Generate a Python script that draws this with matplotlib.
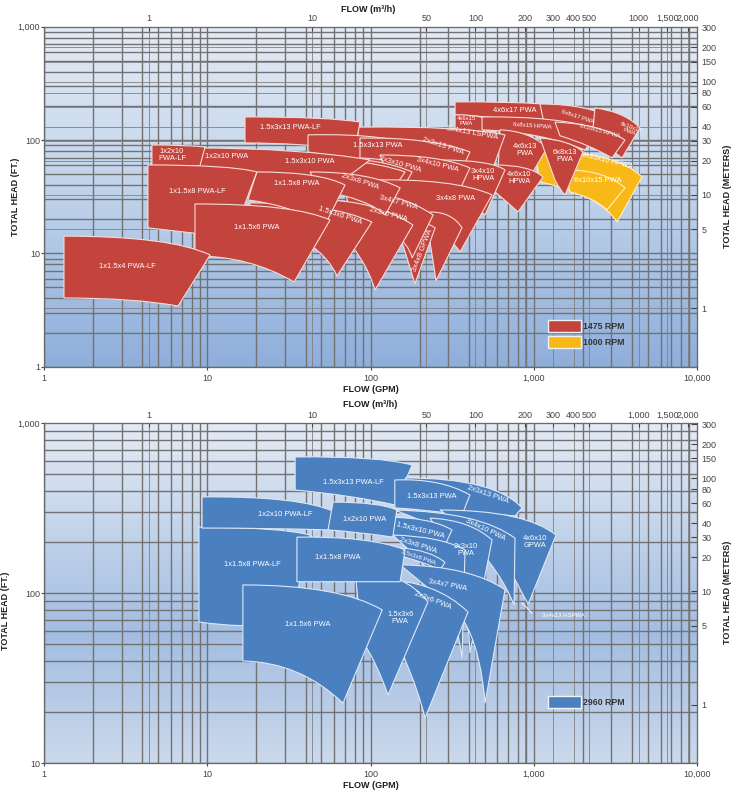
import numpy as np
import matplotlib.pyplot as plt
from matplotlib.path import Path
from matplotlib.patches import PathPatch, Rectangle
from matplotlib.colors import LinearSegmentedColormap
from matplotlib.ticker import NullLocator

plt.rcParams['font.family'] = ['Liberation Sans', 'DejaVu Sans']

GPM_PER_M3H = 4.403
FT_PER_M = 3.281

# axis ticks
gpm_ticks = [1, 10, 100, 1000, 10000]
gpm_labels = ['1', '10', '100', '1,000', '10,000']
m3h_ticks = [1, 10, 50, 100, 200, 300, 400, 500, 1000, 1500, 2000]
m3h_labels_1 = ['1', '10', '50', '100', '200', '300', '400', '500', '1000', '1,500', '2,000']
m3h_labels_2 = ['1', '10', '50', '100', '200', '300', '400', '500', '1,000', '1,500', '2,000']
meter_ticks = [1, 5, 10, 20, 30, 40, 60, 80, 100, 150, 200, 300]
ft_ticks_1 = [1, 10, 100, 1000]
ft_labels_1 = ['1', '10', '100', '1,000']
ft_ticks_2 = [10, 100, 1000]
ft_labels_2 = ['10', '100', '1,000']

# coverage areas, flow GPM / head ft
# each: top-left, top bend, top-right, bottom-right, bottom bend, bottom-left
names_1 = ['4x6x17 PWA', '6x8x17 PWA', '8x10x17\nPWA', '4x6x15\nPWA', '6x8x15 HPWA',
           '8x10x15 HPWA', '8x10x10 HPWA', '8x10x15 PWA', '4x6x13\nPWA', '6x8x13\nPWA',
           '3x4x13 LSPWA', '1.5x3x13 PWA-LF', '1.5x3x13 PWA', '2x3x13 PWA', '4x6x10\nHPWA',
           '3x4x10\nHPWA', '3x4x10 PWA', '2x3x10 PWA', '1.5x3x10 PWA', '1x2x10 PWA',
           '1x2x10\nPWA-LF', '3x4x8 PWA', '', '3x4x8 GPWA', '3x4x7 PWA', '2x3x6 PWA',
           '2x3x8 PWA', '1.5x3x6 PWA', '1x1.5x8 PWA', '1x1.5x8 PWA-LF', '1x1.5x6 PWA',
           '1x1.5x4 PWA-LF']
rpm_1 = [1475] * 6 + [1000, 1000] + [1475] * 24
areas_1 = [
    [(330, 217), (1452, 221), (2553, 177), (2217, 111), (825, 160), (330, 167)],
    [(1094, 208), (2217, 208), (3155, 150), (2553, 100), (1672, 128), (1175, 128)],
    [(2380, 192), (3634, 177), (4490, 128), (3483, 69.5), (2741, 90.5), (2280, 104)],
    [(330, 167), (437, 167), (504, 156), (483, 104), (407, 116), (330, 123)],
    [(483, 160), (1452, 163), (2553, 123), (2066, 81.8), (1094, 118), (483, 123)],
    [(1352, 144), (2553, 139), (3634, 100), (3025, 69.5), (2217, 90.5), (1452, 109)],
    [(1020, 78.5), (3155, 81.8), (4618, 47.2), (3246, 18.9), (2553, 32.8), (1094, 42.7)],
    [(1558, 54.5), (2741, 54.5), (3634, 37.8), (2818, 24.2), (2380, 30.8), (1672, 34.8)],
    [(622, 123), (951, 120), (1209, 85.2), (911, 42.7), (737, 46.3), (605, 52.3)],
    [(1094, 104), (1672, 100), (2009, 78.5), (1558, 32.8), (1452, 36.3), (1352, 44.4)],
    [(83.8, 130), (380, 133), (668, 111), (504, 36.3), (267, 81.8), (83.8, 81.8)],
    [(17.0, 160), (56.5, 160), (86.2, 144), (80.3, 81.8), (37.0, 94.3), (17.0, 94.3)],
    [(41.4, 111), (132, 116), (232, 81.8), (175, 36.3), (86.2, 66.7), (41.4, 78.5)],
    [(86.2, 104), (232, 106.5), (407, 78.5), (330, 40.1), (201, 66.7), (86.2, 69.5)],
    [(580, 60.3), (951, 60.3), (1142, 47.2), (802, 23.2), (668, 29.6), (580, 34.8)],
    [(267, 66.7), (540, 66.7), (668, 54.5), (504, 21.8), (407, 29.6), (330, 36.3)],
    [(114, 73.9), (267, 73.9), (407, 56.7), (330, 29.6), (232, 40.1), (132, 46.3)],
    [(56.5, 69.5), (114, 69.5), (180, 52.3), (156, 36.3), (114, 44.4), (60.6, 49.2)],
    [(20.4, 70.9), (86.2, 72.4), (163, 52.3), (106.6, 21.8), (56.5, 46.3), (20.4, 52.3)],
    [(8.04, 85.2), (37.0, 85.2), (99.3, 66.7), (56.5, 36.3), (32.1, 52.3), (8.04, 56.7)],
    [(4.57, 90.5), (7.29, 90.5), (9.67, 86.9), (9.0, 59.1), (6.33, 59.1), (4.57, 59.1)],
    [(92.5, 44.4), (330, 46.3), (556, 32.8), (354, 10.3), (267, 18.9), (114, 26.7)],
    [(232, 23.2), (316, 23.2), (364, 16.8), (252, 5.71), (237, 10.7), (225, 16.1)],
    [(141, 20.5), (201, 20.5), (249, 16.8), (187, 5.37), (163, 10.7), (147, 16.1)],
    [(69.8, 36.3), (152, 34.8), (242, 21.8), (180, 9.11), (163, 16.1), (74.9, 23.2)],
    [(49.0, 29.6), (106.6, 29.6), (182, 17.8), (106.6, 4.75), (92.5, 9.68), (56.5, 18.9)],
    [(42.6, 52.3), (99.3, 52.3), (152, 37.8), (123, 21.8), (99.3, 29.6), (49.0, 36.3)],
    [(18.2, 27.9), (56.5, 27.9), (102, 18.9), (62.3, 6.32), (50.4, 13.1), (18.2, 21.8)],
    [(20.1, 52.3), (49.0, 52.3), (69.8, 40.1), (52.6, 17.8), (32.1, 26.7), (17.7, 29.6)],
    [(4.32, 60.3), (13.8, 60.3), (20.1, 52.3), (14.2, 13.7), (8.39, 15.1), (4.32, 16.8)],
    [(8.39, 27.3), (34.5, 27.3), (56.5, 19.7), (34.0, 5.59), (18.2, 9.49), (8.39, 9.49)],
    [(1.32, 14.2), (5.90, 14.2), (10.4, 9.68), (6.60, 3.43), (3.60, 4.04), (1.32, 4.04)],
]
label_at_1 = [(769, 184), (1872, 160), (3899, 123), (385, 147), (978, 133),
              (2553, 120), (2818, 65.4), (2482, 43.6), (886, 81.8), (1558, 72.4),
              (419, 116), (32.1, 130), (110, 88.7), (278, 88.7), (814, 46.3),
              (490, 49.2), (256, 60.3), (152, 60.3), (42.6, 64.1), (13.2, 70.9),
              (6.07, 73.9), (330, 30.2), None, (210, 10.7), (147, 27.9), (128, 21.8),
              (86.2, 42.7), (65, 21.4), (35.4, 41), (8.64, 34.8), (20.1, 16.8),
              (3.21, 7.6)]
label_rot_1 = [0, -18, -20, 0, -4, -15, -14, 0, 0, 0, -10, 0, 0, -18, 0, 0, -14,
               -16, 0, 0, 0, 0, 0, 69, -15, -15, -18, -18, 0, 0, 0, 0]

names_2 = ['1.5x3x13 PWA-LF', '2x3x13 PWA', '1.5x3x13 PWA', '4x6x10\nGPWA', '3x4x10 PWA',
           '2x3x10\nPWA', '1.5x3x10 PWA', '2x3x8 PWA', '1.5x3x8 PWA', '3x4x7 PWA',
           '2x3x6 PWA', '1.5x3x6\nPWA', '1x1.5x8 PWA-LF', '1x1.5x8 PWA', '1x2x10 PWA-LF',
           '1x2x10 PWA', '1x1.5x6 PWA']
rpm_2 = [2960] * 17
areas_2 = [
    [(34.5, 634), (114, 642), (180, 568), (141, 331), (74.9, 379), (34.5, 405)],
    [(163, 477), (580, 477), (849, 318), (769, 285), (437, 301), (232, 301)],
    [(141, 464), (267, 477), (407, 379), (364, 289), (232, 309), (141, 318)],
    [(267, 309), (886, 309), (1372, 220), (927, 86.5), (825, 105), (668, 157)],
    [(141, 309), (469, 301), (769, 211), (759, 85.4), (622, 137), (407, 206)],
    [(232, 277), (407, 270), (556, 206), (407, 44.6), (396, 91.3), (330, 157)],
    [(123, 281), (232, 281), (316, 236), (286, 192), (201, 206), (137, 220)],
    [(137, 220), (267, 217), (380, 180), (364, 41.6), (330, 91.3), (201, 157)],
    [(152, 185), (232, 180), (286, 152), (267, 137), (216, 152), (156, 165)],
    [(152, 147), (407, 145), (668, 105), (504, 22.6), (456, 79.8), (232, 105)],
    [(114, 120), (249, 120), (396, 77.6), (216, 18.5), (196, 27.0), (163, 40.5)],
    [(80.3, 137), (163, 133), (225, 88.9), (128, 25.2), (111, 37.9), (88.7, 53.1)],
    [(8.88, 245), (27.9, 245), (42.6, 220), (32.1, 65.1), (15.8, 62.5), (8.88, 67.8)],
    [(35.4, 214), (99.3, 217), (163, 180), (152, 117), (74.9, 117), (35.4, 117)],
    [(9.27, 369), (37.0, 374), (60.6, 301), (54.9, 236), (24.2, 242), (9.27, 242)],
    [(58.9, 344), (114, 344), (145, 309), (137, 214), (86.2, 229), (54.9, 236)],
    [(16.5, 112), (65.0, 112), (118, 79.8), (67.8, 22.6), (37.0, 39.4), (16.5, 40.0)],
]
label_at_2 = [(78, 451), (525, 379), (238, 369), (1020, 200), (504, 236), (385, 180),
              (201, 233), (196, 190), (198, 163), (295, 112), (242, 90), (152, 71.5),
              (19.0, 147), (63.2, 163), (29.9, 289), (92.5, 270), (41.4, 65.1)]
label_rot_2 = [0, -19, 0, 0, -25, 0, -14, -18, -19, -11, -21, 0, 0, 0, 0, 0, 0]

# label with leader line in 2960 chart
hs_name = '3x4x13 HSPWA'
hs_label = (1515, 74.5)
hs_leader = [(849, 87.7), (978, 76.6)]

small_names = ['8x10x17\nPWA', '4x6x15\nPWA', '6x8x15 HPWA', '8x10x15 HPWA', '6x8x17 PWA',
               '1.5x3x8 PWA']

fill = {1475: '#c2443d', 1000: '#f8b817', 2960: '#4a7fc0'}
edge = {1475: '#f6dcd8', 1000: '#fff0c8', 2960: '#dde8f6'}

fig = plt.figure(figsize=(7.39, 7.96), dpi=100)


def area_path(p):
    verts = [p[0], p[1], p[2], p[3], p[4], p[5], p[0]]
    codes = [Path.MOVETO, Path.CURVE3, Path.CURVE3, Path.LINETO,
             Path.CURVE3, Path.CURVE3, Path.CLOSEPOLY]
    return Path(verts, codes)


def draw_panel(rect, ft_lim, ft_ticks, ft_labels, m3h_labels, names, rpms, areas,
               label_at, label_rot, stops, meter_lines):
    bg = fig.add_axes(rect, zorder=0)
    cmap = LinearSegmentedColormap.from_list('bg', stops)
    bg.imshow(np.linspace(1, 0, 256)[:, None], aspect='auto', cmap=cmap,
              extent=(0, 1, 0, 1), vmin=0, vmax=1)
    bg.set_axis_off()

    ax = fig.add_axes(rect, zorder=1)
    ax.patch.set_alpha(0)
    ax.set_xscale('log')
    ax.set_yscale('log')
    ax.set_xlim(1, 10000)
    ax.set_ylim(*ft_lim)

    # grid: GPM / ft decades and their sub-lines, plus m3/h and meter lines
    gx = [m * 10.0 ** k for k in range(4) for m in range(1, 10)]
    ax.vlines(gx, ft_lim[0], ft_lim[1], color='#727272', lw=1.0, zorder=1)
    ax.vlines([v * GPM_PER_M3H for v in m3h_ticks], ft_lim[0], ft_lim[1],
              color='#808080', lw=0.6, zorder=1)
    lo = int(np.log10(ft_lim[0]))
    gy = [m * 10.0 ** k for k in range(lo, 3) for m in range(1, 10)]
    ax.hlines(gy, 1, 10000, color='#727272', lw=1.0, zorder=1)
    if meter_lines:
        ax.hlines([v * FT_PER_M for v in meter_ticks], 1, 10000,
                  color='#808080', lw=0.6, zorder=1)

    for nm, rpm, pts in zip(names, rpms, areas):
        ax.add_patch(PathPatch(area_path(pts), facecolor=fill[rpm], edgecolor=edge[rpm],
                               lw=0.8, zorder=2))
    for nm, xy, rot in zip(names, label_at, label_rot):
        if xy is None or not nm:
            continue
        fs = 4.3 if nm in small_names else 5.4
        ax.text(xy[0], xy[1], nm, color='white', fontsize=fs, ha='center', va='center',
                rotation=rot, rotation_mode='anchor', linespacing=1.0, zorder=4)

    ax.xaxis.set_minor_locator(NullLocator())
    ax.yaxis.set_minor_locator(NullLocator())
    ax.set_xticks(gpm_ticks, gpm_labels)
    ax.set_yticks(ft_ticks, ft_labels)
    ax.tick_params(axis='x', length=2, pad=3, labelsize=6.5, colors='#444')
    ax.tick_params(axis='y', length=2, pad=1.2, labelsize=6.5, colors='#444')
    for s in ax.spines.values():
        s.set_color('#6a6a6a')

    top = ax.twiny()
    top.set_zorder(2)
    top.set_xscale('log')
    top.set_xlim(1 / GPM_PER_M3H, 10000 / GPM_PER_M3H)
    top.xaxis.set_minor_locator(NullLocator())
    top.set_xticks(m3h_ticks, m3h_labels)
    top.tick_params(axis='x', direction='in', length=3, pad=2.5, labelsize=6.5,
                    colors='#444')

    right = ax.twinx()
    right.set_zorder(2)
    right.set_yscale('log')
    right.set_ylim(1 / FT_PER_M, 1000 / FT_PER_M)
    right.yaxis.set_minor_locator(NullLocator())
    right.set_yticks(meter_ticks, [str(v) for v in meter_ticks])
    right.tick_params(axis='y', direction='in', length=4, pad=3.5, labelsize=6.5,
                      colors='#444')
    for a in (top, right):
        for s in a.spines.values():
            s.set_color('#6a6a6a')
    return ax


ax1 = draw_panel([0.05995, 0.53932, 0.88281, 0.42714], (1, 1000), ft_ticks_1, ft_labels_1,
                 m3h_labels_1, names_1, rpm_1, areas_1, label_at_1, label_rot_1,
                 [(0, '#8eaedb'), (0.5, '#bfd2ea'), (1, '#e4ebf5')], True)
ax2 = draw_panel([0.05995, 0.04108, 0.88281, 0.42714], (10, 1000), ft_ticks_2, ft_labels_2,
                 m3h_labels_2, names_2, rpm_2, areas_2, label_at_2, label_rot_2,
                 [(0, '#cbd9ec'), (0.38, '#a3bde1'), (1, '#e4ebf5')], False)

ax2.text(hs_label[0], hs_label[1], hs_name, color='white', fontsize=4.3,
         ha='center', va='center', zorder=4)
ax2.plot([p[0] for p in hs_leader], [p[1] for p in hs_leader], color='white', lw=0.7,
         zorder=4)

# legends
for ax, entries in ((ax1, [(1475, '1475 RPM', 0.1021), (1000, '1000 RPM', 0.055)]),
                    (ax2, [(2960, '2960 RPM', 0.1626)])):
    for rpm, txt, y0 in entries:
        ax.add_patch(Rectangle((0.772, y0), 0.05, 0.034, transform=ax.transAxes,
                               facecolor=fill[rpm], edgecolor='#f2f2f2', lw=1.0, zorder=5))
        ax.text(0.826, y0 + 0.017, txt, transform=ax.transAxes, fontsize=6.3,
                fontweight='bold', color='#333', va='center', zorder=5)

W, H = 739.0, 796.0
title_kw = dict(fontsize=6.5, fontweight='bold', color='#1e1e1e', ha='center', va='center')
fig.text(368 / W, 1 - 10 / H, 'FLOW (m³/h)', **title_kw)
fig.text(371 / W, 1 - 390 / H, 'FLOW (GPM)', **title_kw)
fig.text(370 / W, 1 - 405 / H, 'FLOW (m³/h)', **title_kw)
fig.text(371 / W, 1 - 785 / H, 'FLOW (GPM)', **title_kw)
fig.text(16 / W, 1 - 197 / H, 'TOTAL HEAD (FT.)', rotation=90, **title_kw)
fig.text(6 / W, 1 - 611 / H, 'TOTAL HEAD (FT.)', rotation=90, **title_kw)
fig.text(727 / W, 1 - 196 / H, 'TOTAL HEAD (METERS)', rotation=90, **title_kw)
fig.text(727 / W, 1 - 592 / H, 'TOTAL HEAD (METERS)', rotation=90, **title_kw)

fig.savefig('out.png', dpi=100)
